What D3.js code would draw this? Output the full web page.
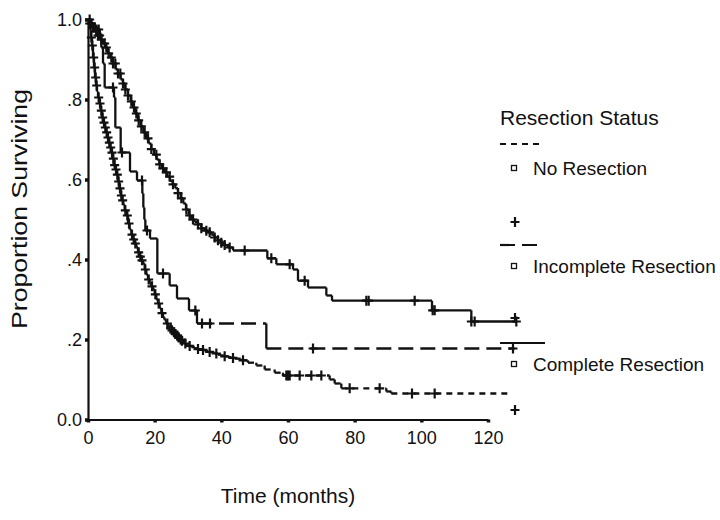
<!DOCTYPE html>
<html>
<head>
<meta charset="utf-8">
<script src="https://cdn.jsdelivr.net/npm/d3@7"></script>
<style>
  body { margin: 0; background: #fff; }
  svg { display: block; }
  text { font-family: "Liberation Sans", Arial, sans-serif; fill: #111; }
</style>
</head>
<body>
<div id="chart"></div>
<script>
const width = 720, height = 520;

// Kaplan-Meier steps: time (months) -> proportion surviving
const noTimes = [0, 0.3, 0.6, 0.9, 1.2, 1.5, 1.8, 2.1, 2.4, 2.7, 3, 3.4, 3.8, 4.2, 4.6, 5, 5.4, 5.8, 6.2, 6.6,
  7, 7.4, 7.8, 8.2, 8.6, 9, 9.4, 9.8, 10.2, 10.6, 11, 11.5, 12, 12.5, 13, 13.5, 14, 14.5, 15, 15.5,
  16, 16.5, 17, 17.5, 18, 18.5, 19, 19.5, 20, 20.5, 21, 21.5, 22, 22.5, 23, 23.5, 24, 24.5, 25, 25.5,
  26, 26.5, 27, 27.5, 28, 28.5, 29, 29.5, 30, 31, 32, 33, 34, 35, 36, 37, 38, 39, 40, 41, 42, 43, 44,
  46, 48, 50.5, 53, 56, 58.5, 72.5, 74, 76, 89.5, 91];
const noSurv = [1, 0.99, 0.975, 0.955, 0.935, 0.905, 0.88, 0.855, 0.835, 0.82, 0.805, 0.79, 0.772, 0.755, 0.742, 0.73, 0.718, 0.705, 0.692, 0.68,
  0.667, 0.652, 0.636, 0.625, 0.612, 0.595, 0.578, 0.56, 0.548, 0.537, 0.523, 0.51, 0.49, 0.475, 0.462, 0.45, 0.44, 0.43, 0.418, 0.407,
  0.398, 0.39, 0.375, 0.362, 0.35, 0.34, 0.333, 0.325, 0.313, 0.3, 0.29, 0.278, 0.266, 0.255, 0.248, 0.24, 0.234, 0.228, 0.223, 0.218,
  0.214, 0.21, 0.205, 0.2, 0.197, 0.194, 0.19, 0.187, 0.184, 0.181, 0.178, 0.176, 0.174, 0.171, 0.169, 0.167, 0.165, 0.162, 0.16, 0.158, 0.156, 0.154, 0.152,
  0.148, 0.142, 0.135, 0.125, 0.117, 0.11, 0.1, 0.09, 0.078, 0.07, 0.065];
const noCensor = [0.5, 1, 1.3, 1.7, 2, 2.3, 2.6, 3.2, 3.6, 4, 4.4, 4.8, 5.2, 5.6, 6, 6.4, 6.8, 7.2, 7.6, 8, 8.4, 8.8, 9.2, 9.6,
  10, 10.4, 11.2, 11.8, 12.3, 13.2, 13.7, 14.2, 15.2, 15.7, 16.2, 17.2, 18.2, 19.2, 20.2, 21.2, 22.2, 23.8, 24.8, 25.2,
  25.8, 26.2, 26.8, 27.2, 27.8, 28.2, 29.2, 30.5, 33, 34.5, 36.5, 38.5, 41, 43.5, 46.5, 59.5, 60, 60.5, 63.5, 67, 70,
  78.5, 87.5, 97.2, 104];
const noEnd = 126;

const incTimes = [0, 1, 2, 3.5, 4, 4.5, 5, 7.8, 8.2, 9.8, 12.6, 14.7, 16.3, 16.6, 16.9, 17.2, 18.6, 20.8, 24.5, 26.7, 30.3, 32.7, 53.5];
const incSurv = [1, 0.99, 0.975, 0.965, 0.93, 0.89, 0.83, 0.805, 0.73, 0.6675, 0.62, 0.5975, 0.565, 0.53, 0.5, 0.4725, 0.4525, 0.365, 0.335, 0.3025, 0.2725, 0.24, 0.1775];
const incCensor = [2.5, 3.2, 7.5, 10.2, 16.2, 17.7, 22.5, 32.2, 34.2, 36.6, 67.5, 127.5];
const incEnd = 128;

const compTimes = [0, 0.7, 1.5, 2.2, 3, 3.8, 4.5, 5.2, 6, 6.8, 7.5, 8.3, 9, 9.8, 10.5, 11.2, 12, 12.8, 13.5, 14.2,
  15, 15.8, 16.6, 17.4, 18.2, 19, 19.8, 20.6, 21.4, 22.2, 23, 23.8, 24.6, 25.4, 26.2, 27, 27.8, 28.6, 29.4, 30.2,
  31, 32, 33, 34, 35, 36, 37, 38, 39, 40, 41, 42, 43.5, 53.8, 56.5, 61.5, 63, 66, 71.5, 73.2, 103.2, 115];
const compSurv = [1, 0.99, 0.98, 0.97, 0.96, 0.95, 0.94, 0.93, 0.915, 0.905, 0.89, 0.875, 0.865, 0.85, 0.84, 0.825, 0.81, 0.795, 0.78, 0.765,
  0.748, 0.733, 0.718, 0.703, 0.69, 0.676, 0.662, 0.65, 0.638, 0.628, 0.618, 0.607, 0.597, 0.588, 0.578, 0.566, 0.553, 0.54, 0.525, 0.51,
  0.5, 0.494, 0.488, 0.478, 0.472, 0.468, 0.462, 0.455, 0.448, 0.442, 0.436, 0.43, 0.4225, 0.403, 0.388, 0.375, 0.347, 0.33, 0.31, 0.297, 0.273, 0.245];
const compCensor = [0.5, 1, 1.5, 2, 2.5, 3, 3.5, 4, 5, 5.5, 6.2, 7, 7.5, 8.2, 9, 9.7, 10.5, 11.2, 12, 13, 13.8, 14.5, 15.2,
  16, 17, 18, 19, 20.5, 21.5, 22.5, 23.5, 24.5, 25.5, 27, 28, 29.5, 30.5, 31.5, 33, 34, 35.5, 36.5, 38, 39, 40, 41,
  42.5, 47, 55, 60.5, 65, 83.5, 84.2, 98, 103.4, 104, 115, 116, 128.5];
const compEnd = 128.7;

const groups = ["No Resection", "Incomplete Resection", "Complete Resection"];
const xTicks = [0, 20, 40, 60, 80, 100, 120];
const yTicks = [0, 0.2, 0.4, 0.6, 0.8, 1];
const yTickLabels = ["0.0", ".2", ".4", ".6", ".8", "1.0"];

const series = [
  {name: groups[0], times: noTimes, surv: noSurv, censor: noCensor, end: noEnd, dash: "6,5"},
  {name: groups[1], times: incTimes, surv: incSurv, censor: incCensor, end: incEnd, dash: "15,7"},
  {name: groups[2], times: compTimes, surv: compSurv, censor: compCensor, end: compEnd, dash: null}
];

const svg = d3.select("#chart").append("svg")
  .attr("width", width).attr("height", height);

const x = d3.scaleLinear().domain([0, 120]).range([88, 488]);
const y = d3.scaleLinear().domain([0, 1]).range([419.5, 19.5]);

// axes
const xAxis = d3.axisBottom(x).tickValues(xTicks).tickSize(3).tickSizeOuter(0).tickPadding(9);
const yAxis = d3.axisLeft(y).tickValues(yTicks).tickSize(3).tickSizeOuter(0).tickPadding(3)
  .tickFormat((d, i) => yTickLabels[i]);

const gx = svg.append("g").attr("transform", `translate(0,${y(0)})`).call(xAxis);
const gy = svg.append("g").attr("transform", `translate(${x(0)},0)`).call(yAxis);

[gx, gy].forEach(g => {
  g.select(".domain").attr("stroke", "#111").attr("stroke-width", 2.2);
  g.selectAll(".tick line").attr("stroke", "#111").attr("stroke-width", 3.5);
  g.selectAll(".tick text").attr("fill", "#111")
    .style("font-family", "'Liberation Sans', Arial, sans-serif").style("font-size", "18px");
});

// step segments drawn one by one: risers solid, treads restart their dash pattern
function stepAt(s, t) {
  let i = d3.bisectRight(s.times, t) - 1;
  return s.surv[Math.max(0, i)];
}

series.forEach(s => {
  const segs = [];
  s.times.forEach((t, i) => {
    const t2 = i < s.times.length - 1 ? s.times[i + 1] : s.end;
    segs.push([t, s.surv[i], t2, s.surv[i], true]);
    if (i < s.times.length - 1) segs.push([t2, s.surv[i], t2, s.surv[i + 1], false]);
  });
  const g = svg.append("g").attr("stroke", "#111").attr("stroke-width", 2.3).attr("fill", "none");
  g.selectAll("line.seg").data(segs).join("line")
    .attr("class", "seg")
    .attr("x1", d => x(d[0])).attr("y1", d => y(d[1]))
    .attr("x2", d => x(d[2])).attr("y2", d => y(d[3]))
    .attr("stroke-dasharray", d => d[4] ? s.dash : null);

  g.selectAll("path.cen").data(s.censor).join("path")
    .attr("class", "cen")
    .attr("stroke-width", 2.2)
    .attr("d", t => {
      const cx = x(t), cy = y(stepAt(s, t));
      return `M${cx - 4.5},${cy}H${cx + 4.5}M${cx},${cy - 5}V${cy + 5}`;
    });
});

// axis titles
svg.append("text")
  .attr("transform", "translate(27,209) rotate(-90)")
  .attr("text-anchor", "middle")
  .attr("textLength", 240).attr("lengthAdjust", "spacingAndGlyphs")
  .style("font-size", "22px")
  .text("Proportion Surviving");

svg.append("text")
  .attr("x", 288).attr("y", 503)
  .attr("text-anchor", "middle")
  .style("font-size", "21px")
  .text("Time (months)");

// legend: line sample, box + label, censor mark for each group
const legend = svg.append("g");
legend.append("text")
  .attr("x", 500).attr("y", 125)
  .style("font-size", "21px")
  .text("Resection Status");

const lineY = [144, 245, 343], boxY = [168, 266, 364], plusY = [222, 318, 410];
series.forEach((s, i) => {
  legend.append("line")
    .attr("x1", 500).attr("x2", i === 2 ? 545 : 541)
    .attr("y1", lineY[i]).attr("y2", lineY[i])
    .attr("stroke", "#111").attr("stroke-width", 2.2)
    .attr("stroke-dasharray", s.dash);
  legend.append("rect")
    .attr("x", 511.5).attr("y", boxY[i] - 2.5).attr("width", 5).attr("height", 5)
    .attr("fill", "none").attr("stroke", "#111").attr("stroke-width", 1.3);
  legend.append("text")
    .attr("x", 533).attr("y", boxY[i] + 7)
    .style("font-size", "19px")
    .text(s.name);
  legend.append("path")
    .attr("d", `M${515 - 4.5},${plusY[i]}H${515 + 4.5}M515,${plusY[i] - 5}V${plusY[i] + 5}`)
    .attr("stroke", "#111").attr("stroke-width", 2.2);
});
</script>
</body>
</html>
